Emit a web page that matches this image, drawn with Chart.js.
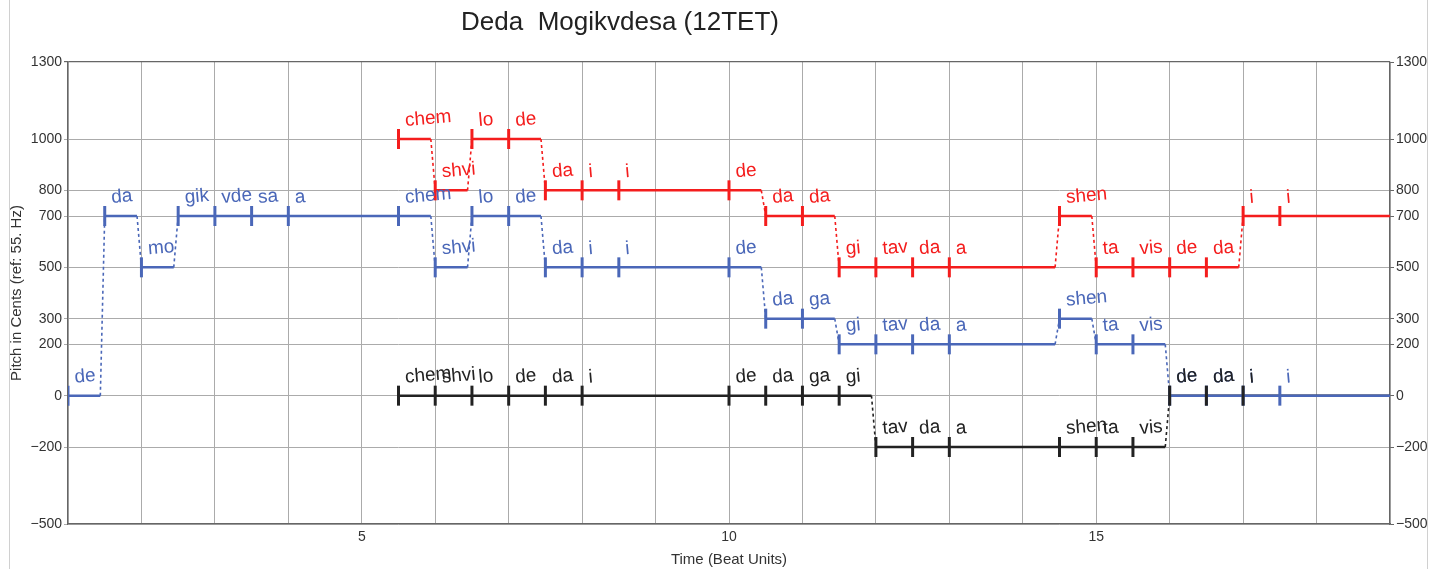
<!DOCTYPE html>
<html>
<head>
<meta charset="utf-8">
<script src="https://cdn.jsdelivr.net/npm/chart.js@4/dist/chart.umd.min.js"></script>
<style>
  body { margin: 0; background: #fff; overflow: hidden; }
  #wrap { position: relative; width: 1429px; height: 569px; }
  #title {
    position: absolute; left: 370px; top: 6px; width: 500px; line-height: 30px;
    text-align: center; font: 26px "Liberation Sans", Arial, sans-serif; color: #222;
  }
  #frame {
    position: absolute; left: 9px; top: 0; width: 1417px; height: 569px;
    border-left: 1px solid #d0d0d0; border-right: 1px solid #d0d0d0; pointer-events: none;
  }
</style>
</head>
<body>
<div id="wrap">
  <canvas id="myChart" width="1429" height="569"></canvas>
  <div id="title">Deda&nbsp; Mogikvdesa (12TET)</div>
  <div id="frame"></div>
</div>
<script>
// y ticks (cents) used on both sides
var yTickValues = [-500, -200, 0, 200, 300, 500, 700, 800, 1000, 1300];
var endTime = 19;

// top voice (red)
var redSyllables = ["chem", "shvi", "lo", "de", "da", "i", "i", "de", "da", "da", "gi", "tav", "da", "a", "shen", "ta", "vis", "de", "da", "i", "i"];
var redStarts = [5.5, 6, 6.5, 7, 7.5, 8, 8.5, 10, 10.5, 11, 11.5, 12, 12.5, 13, 14.5, 15, 15.5, 16, 16.5, 17, 17.5];
var redPitches = [1000, 800, 1000, 1000, 800, 800, 800, 800, 700, 700, 500, 500, 500, 500, 700, 500, 500, 500, 500, 700, 700];

// middle voice (blue)
var blueSyllables = ["de", "da", "mo", "gik", "vde", "sa", "a", "chem", "shvi", "lo", "de", "da", "i", "i", "de", "da", "ga", "gi", "tav", "da", "a", "shen", "ta", "vis", "de", "da", "i", "i"];
var blueStarts = [1, 1.5, 2, 2.5, 3, 3.5, 4, 5.5, 6, 6.5, 7, 7.5, 8, 8.5, 10, 10.5, 11, 11.5, 12, 12.5, 13, 14.5, 15, 15.5, 16, 16.5, 17, 17.5];
var bluePitches = [0, 700, 500, 700, 700, 700, 700, 700, 500, 700, 700, 500, 500, 500, 500, 300, 300, 200, 200, 200, 200, 300, 200, 200, 0, 0, 0, 0];

// bass voice (black)
var blackSyllables = ["chem", "shvi", "lo", "de", "da", "i", "de", "da", "ga", "gi", "tav", "da", "a", "shen", "ta", "vis", "de", "da", "i"];
var blackStarts = [5.5, 6, 6.5, 7, 7.5, 8, 10, 10.5, 11, 11.5, 12, 12.5, 13, 14.5, 15, 15.5, 16, 16.5, 17];
var blackPitches = [0, 0, 0, 0, 0, 0, 0, 0, 0, 0, -200, -200, -200, -200, -200, -200, 0, 0, 0];

var RED = "#f41d1d";
var BLUE = "#4a67b8";
var BLACK = "#222222";
var GAP = 0.06; // little gap before a pitch change

// horizontal pieces of one voice
function noteSegments(starts, pitches) {
  var pts = [];
  for (var i = 0; i < starts.length; i++) {
    var last = i === starts.length - 1;
    var next = last ? endTime : starts[i + 1];
    var same = !last && pitches[i + 1] === pitches[i];
    var e = last || same ? next : next - GAP;
    pts.push({ x: starts[i], y: pitches[i] }, { x: e, y: pitches[i] }, { x: e, y: null });
  }
  return pts;
}

// dotted moves between pitches
function moveSegments(starts, pitches) {
  var pts = [];
  for (var i = 0; i < starts.length - 1; i++) {
    if (pitches[i + 1] !== pitches[i]) {
      pts.push({ x: starts[i + 1] - GAP, y: pitches[i] }, { x: starts[i + 1], y: pitches[i + 1] }, { x: starts[i + 1], y: null });
    }
  }
  return pts;
}

function noteStarts(starts, pitches) {
  return starts.map(function (s, i) { return { x: s, y: pitches[i] }; });
}

function voiceDatasets(starts, pitches, color, lineOrder, tickOrder) {
  return [
    { data: noteSegments(starts, pitches), borderColor: color, borderWidth: 2.5, pointRadius: 0, spanGaps: false, order: lineOrder },
    { data: moveSegments(starts, pitches), borderColor: color, borderWidth: 1.6, borderDash: [3, 3], pointRadius: 0, spanGaps: false, order: lineOrder },
    { data: noteStarts(starts, pitches), showLine: false, pointStyle: "line", pointRotation: 90, pointRadius: 10,
      pointBorderWidth: 3, pointBorderColor: color, pointBackgroundColor: color, order: tickOrder }
  ];
}

var voices = [
  { starts: blueStarts, pitches: bluePitches, words: blueSyllables, color: BLUE },
  { starts: blackStarts, pitches: blackPitches, words: blackSyllables, color: BLACK },
  { starts: redStarts, pitches: redPitches, words: redSyllables, color: RED }
];

// syllable text above each note
var syllablePlugin = {
  id: "syllables",
  afterDatasetsDraw: function (chart) {
    var ctx = chart.ctx;
    var xs = chart.scales.x, ys = chart.scales.y;
    ctx.save();
    ctx.font = '19px "Liberation Sans", Arial, sans-serif';
    ctx.textBaseline = "alphabetic";
    ctx.textAlign = "left";
    voices.forEach(function (v) {
      ctx.fillStyle = v.color;
      v.words.forEach(function (w, i) {
        var px = xs.getPixelForValue(v.starts[i]) + 7;
        var py = ys.getPixelForValue(v.pitches[i]) - 13;
        ctx.save();
        ctx.translate(px, py);
        ctx.rotate(-5 * Math.PI / 180);
        ctx.fillText(w, 0, 0);
        ctx.restore();
      });
    });
    ctx.restore();
  }
};

var tickFont = { family: '"Liberation Sans", Arial, sans-serif', size: 14 };
var titleFont = { family: '"Liberation Sans", Arial, sans-serif', size: 15 };

var ctx = document.getElementById("myChart").getContext("2d");
var myChart = new Chart(ctx, {
  type: "line",
  data: {
    datasets: []
      .concat(voiceDatasets(blackStarts, blackPitches, BLACK, 6, 2))
      .concat(voiceDatasets(blueStarts, bluePitches, BLUE, 5, 3))
      .concat(voiceDatasets(redStarts, redPitches, RED, 4, 1))
  },
  options: {
    responsive: false,
    animation: false,
    events: [],
    devicePixelRatio: 1,
    layout: { padding: { top: 62, left: 0, right: 0, bottom: 0 } },
    plugins: { legend: { display: false }, tooltip: { enabled: false } },
    elements: { line: { tension: 0 } },
    scales: {
      x: {
        type: "linear",
        min: 1,
        max: endTime,
        afterFit: function (s) { s.height = 45; },
        ticks: {
          stepSize: 1,
          autoSkip: false,
          maxRotation: 0,
          padding: 5,
          color: "#333",
          font: tickFont,
          callback: function (v) { return v % 5 === 0 ? v : ""; }
        },
        grid: { color: "#ababab", lineWidth: 1, drawTicks: false },
        border: { color: "#666", width: 1.2 },
        title: { display: true, text: "Time (Beat Units)", color: "#333", font: titleFont, padding: { top: 0, bottom: 0 } }
      },
      y: {
        position: "left",
        min: -500,
        max: 1300,
        afterFit: function (s) { s.width = 68; },
        afterBuildTicks: function (s) { s.ticks = yTickValues.map(function (v) { return { value: v }; }); },
        ticks: { padding: 2, color: "#333", font: tickFont, callback: function (v) { return v < 0 ? "\u2212" + Math.abs(v) : v; } },
        grid: {
          color: function (c) { return c.tick && c.tick.value === 1300 ? "#666" : "#ababab"; },
          lineWidth: function (c) { return c.tick && c.tick.value === 1300 ? 1.2 : 1; },
          tickLength: 4
        },
        border: { color: "#666", width: 1.2 },
        title: { display: true, text: "Pitch in Cents (ref: 55. Hz)", color: "#333", font: titleFont, padding: { top: 8, bottom: 0 } }
      },
      y2: {
        position: "right",
        min: -500,
        max: 1300,
        afterFit: function (s) { s.width = 39; },
        afterBuildTicks: function (s) { s.ticks = yTickValues.map(function (v) { return { value: v }; }); },
        ticks: { padding: 2, color: "#333", font: tickFont, callback: function (v) { return v < 0 ? "\u2212" + Math.abs(v) : v; } },
        grid: { drawOnChartArea: false, color: "#666", tickLength: 4 },
        border: { color: "#666", width: 1.2 }
      }
    }
  },
  plugins: [syllablePlugin]
});
</script>
</body>
</html>
